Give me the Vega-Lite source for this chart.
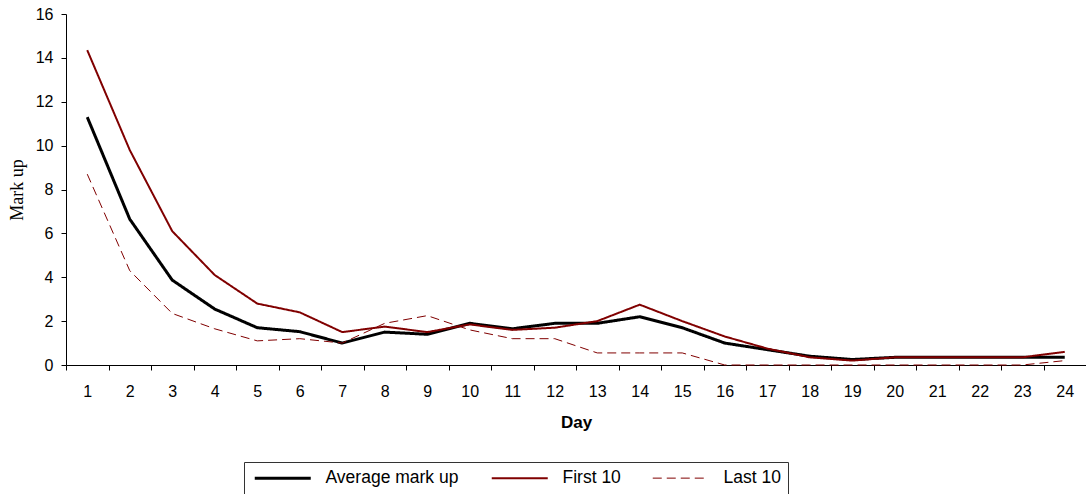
{
  "$schema": "https://vega.github.io/schema/vega-lite/v6.json",
  "width": 1020,
  "height": 351,
  "padding": {"left": 66, "top": 14, "right": 0, "bottom": 129},
  "autosize": {"type": "none"},
  "background": "white",
  "config": {
    "view": {"stroke": null},
    "font": "Liberation Sans",
    "axis": {"grid": false, "domainColor": "black", "tickColor": "black", "labelColor": "black", "titleColor": "black", "labelFont": "Liberation Sans", "labelFontSize": 16, "tickSize": 5, "domainWidth": 1, "tickWidth": 1}
  },
  "data": {
    "values": [
      {"Day": 1, "Series": "Average mark up", "Value": 11.3},
      {"Day": 2, "Series": "Average mark up", "Value": 6.65},
      {"Day": 3, "Series": "Average mark up", "Value": 3.87},
      {"Day": 4, "Series": "Average mark up", "Value": 2.55},
      {"Day": 5, "Series": "Average mark up", "Value": 1.7},
      {"Day": 6, "Series": "Average mark up", "Value": 1.52},
      {"Day": 7, "Series": "Average mark up", "Value": 1.0},
      {"Day": 8, "Series": "Average mark up", "Value": 1.5},
      {"Day": 9, "Series": "Average mark up", "Value": 1.4},
      {"Day": 10, "Series": "Average mark up", "Value": 1.9},
      {"Day": 11, "Series": "Average mark up", "Value": 1.65},
      {"Day": 12, "Series": "Average mark up", "Value": 1.9},
      {"Day": 13, "Series": "Average mark up", "Value": 1.9},
      {"Day": 14, "Series": "Average mark up", "Value": 2.2},
      {"Day": 15, "Series": "Average mark up", "Value": 1.7},
      {"Day": 16, "Series": "Average mark up", "Value": 1.0},
      {"Day": 17, "Series": "Average mark up", "Value": 0.7},
      {"Day": 18, "Series": "Average mark up", "Value": 0.4},
      {"Day": 19, "Series": "Average mark up", "Value": 0.25},
      {"Day": 20, "Series": "Average mark up", "Value": 0.35},
      {"Day": 21, "Series": "Average mark up", "Value": 0.35},
      {"Day": 22, "Series": "Average mark up", "Value": 0.35},
      {"Day": 23, "Series": "Average mark up", "Value": 0.35},
      {"Day": 24, "Series": "Average mark up", "Value": 0.35},
      {"Day": 1, "Series": "First 10", "Value": 14.35},
      {"Day": 2, "Series": "First 10", "Value": 9.8},
      {"Day": 3, "Series": "First 10", "Value": 6.1},
      {"Day": 4, "Series": "First 10", "Value": 4.1},
      {"Day": 5, "Series": "First 10", "Value": 2.8},
      {"Day": 6, "Series": "First 10", "Value": 2.4},
      {"Day": 7, "Series": "First 10", "Value": 1.5},
      {"Day": 8, "Series": "First 10", "Value": 1.75},
      {"Day": 9, "Series": "First 10", "Value": 1.5},
      {"Day": 10, "Series": "First 10", "Value": 1.85},
      {"Day": 11, "Series": "First 10", "Value": 1.6},
      {"Day": 12, "Series": "First 10", "Value": 1.7},
      {"Day": 13, "Series": "First 10", "Value": 2.0},
      {"Day": 14, "Series": "First 10", "Value": 2.75},
      {"Day": 15, "Series": "First 10", "Value": 2.0},
      {"Day": 16, "Series": "First 10", "Value": 1.3},
      {"Day": 17, "Series": "First 10", "Value": 0.75},
      {"Day": 18, "Series": "First 10", "Value": 0.35},
      {"Day": 19, "Series": "First 10", "Value": 0.2},
      {"Day": 20, "Series": "First 10", "Value": 0.35},
      {"Day": 21, "Series": "First 10", "Value": 0.35},
      {"Day": 22, "Series": "First 10", "Value": 0.35},
      {"Day": 23, "Series": "First 10", "Value": 0.35},
      {"Day": 24, "Series": "First 10", "Value": 0.6},
      {"Day": 1, "Series": "Last 10", "Value": 8.7},
      {"Day": 2, "Series": "Last 10", "Value": 4.3},
      {"Day": 3, "Series": "Last 10", "Value": 2.35},
      {"Day": 4, "Series": "Last 10", "Value": 1.65},
      {"Day": 5, "Series": "Last 10", "Value": 1.1},
      {"Day": 6, "Series": "Last 10", "Value": 1.2},
      {"Day": 7, "Series": "Last 10", "Value": 1.0},
      {"Day": 8, "Series": "Last 10", "Value": 1.9},
      {"Day": 9, "Series": "Last 10", "Value": 2.25},
      {"Day": 10, "Series": "Last 10", "Value": 1.6},
      {"Day": 11, "Series": "Last 10", "Value": 1.2},
      {"Day": 12, "Series": "Last 10", "Value": 1.2},
      {"Day": 13, "Series": "Last 10", "Value": 0.55},
      {"Day": 14, "Series": "Last 10", "Value": 0.55},
      {"Day": 15, "Series": "Last 10", "Value": 0.55},
      {"Day": 16, "Series": "Last 10", "Value": 0.0},
      {"Day": 17, "Series": "Last 10", "Value": 0.0},
      {"Day": 18, "Series": "Last 10", "Value": 0.0},
      {"Day": 19, "Series": "Last 10", "Value": 0.0},
      {"Day": 20, "Series": "Last 10", "Value": 0.0},
      {"Day": 21, "Series": "Last 10", "Value": 0.0},
      {"Day": 22, "Series": "Last 10", "Value": 0.0},
      {"Day": 23, "Series": "Last 10", "Value": 0.0},
      {"Day": 24, "Series": "Last 10", "Value": 0.2}
    ]
  },
  "mark": {"type": "line", "strokeCap": "butt", "strokeJoin": "miter"},
  "encoding": {
    "x": {
      "field": "Day", "type": "ordinal",
      "scale": {"type": "band", "paddingInner": 0, "paddingOuter": 0},
      "axis": {"title": "Day", "titleFontWeight": "bold", "titleFontSize": 17, "titleFont": "Liberation Sans", "labelAngle": 0, "tickBand": "extent", "labelPadding": 13, "titlePadding": 15}
    },
    "y": {
      "field": "Value", "type": "quantitative",
      "scale": {"domain": [0, 16], "nice": false, "zero": true},
      "axis": {"title": "Mark up", "titleFont": "Liberation Serif", "titleFontSize": 18, "titleFontWeight": "normal", "values": [0,2,4,6,8,10,12,14,16], "labelPadding": 8, "titlePadding": 9}
    },
    "color": {
      "field": "Series", "type": "nominal", "title": null,
      "scale": {"domain": ["Average mark up", "First 10", "Last 10"], "range": ["#000000", "#800000", "#800000"]},
      "legend": {
        "title": null, "orient": "none", "legendX": 178, "legendY": 448, "direction": "horizontal", "columns": 3,
        "symbolType": "M-1,0H10.2", "symbolSize": 100, "labelFontSize": 17.5, "labelFont": "Liberation Sans", "labelColor": "black",
        "strokeColor": "#333333", "padding": 7, "columnPadding": 28, "labelOffset": 57, "symbolOffset": 0
      }
    },
    "strokeWidth": {
      "field": "Series", "type": "nominal", "title": null,
      "scale": {"domain": ["Average mark up", "First 10", "Last 10"], "range": [3, 1.0, 1.4]}
    },
    "strokeDash": {
      "field": "Series", "type": "nominal", "title": null,
      "scale": {"domain": ["Average mark up", "First 10", "Last 10"], "range": [[1, 0], [1, 0], [9, 5]]}
    }
  }
}
